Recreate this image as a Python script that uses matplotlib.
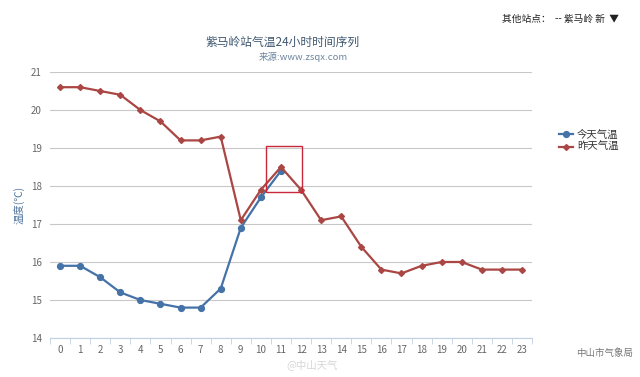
import matplotlib.pyplot as plt
from matplotlib.patches import Rectangle

plt.rcParams['font.family'] = ['Noto Sans CJK SC', 'DejaVu Sans']

hours = list(range(24))
hour_labels = [str(h) for h in hours]
today = [15.9, 15.9, 15.6, 15.2, 15.0, 14.9, 14.8, 14.8, 15.3, 16.9, 17.7, 18.4]
yesterday = [20.6, 20.6, 20.5, 20.4, 20.0, 19.7, 19.2, 19.2, 19.3, 17.1, 17.9, 18.5,
             17.9, 17.1, 17.2, 16.4, 15.8, 15.7, 15.9, 16.0, 16.0, 15.8, 15.8, 15.8]

fig = plt.figure(figsize=(6.4, 3.77), dpi=100)
ax = fig.add_axes([50 / 640, 1 - 338 / 377, 482 / 640, 266 / 377])

ax.plot(hours[:len(today)], today, color="#4572A7", linewidth=1.6, marker="o",
        markersize=4.2, label="今天气温", zorder=3)
ax.plot(hours, yesterday, color="#AA4643", linewidth=1.6, marker="D",
        markersize=3, label="昨天气温", zorder=3)

# red box highlighting the 11 o'clock peak
ax.add_patch(Rectangle((10.25, 17.85), 1.8, 1.2, fill=False, edgecolor="#c8283a",
                       linewidth=1, zorder=4))

ax.set_xlim(-0.5, 23.5)
ax.set_ylim(14, 21)
ax.set_yticks(range(14, 22))
ax.set_xticks(hours)
ax.set_xticklabels(hour_labels)
ax.set_xticks([h + 0.5 for h in range(-1, 24)], minor=True)
ax.tick_params(axis="x", which="major", length=0, labelsize=7, colors="#666666", pad=5)
ax.tick_params(axis="x", which="minor", length=4, color="#C0D0E0")
ax.tick_params(axis="y", length=0, labelsize=7, colors="#666666", pad=6)
ax.grid(axis="y", color="#C8C8C8", linewidth=0.8)
ax.set_axisbelow(True)
for s in ["top", "right", "left"]:
    ax.spines[s].set_visible(False)
ax.spines["bottom"].set_color("#C0D0E0")

ax.set_ylabel("温度(℃)", color="#4d759e", fontsize=7.5, labelpad=4)

fig.text(283 / 640, 1 - 42 / 377, "紫马岭站气温24小时时间序列", ha="center", va="center",
         fontsize=8.5, color="#3E576F")
fig.text(303 / 640, 1 - 57 / 377, "来源:www.zsqx.com", ha="center", va="center",
         fontsize=6.8, color="#6D869F")
fig.text(560 / 640, 1 - 19 / 377, "其他站点：  -- 紫马岭 新  ▼", ha="center", va="center",
         fontsize=7, color="#222222")
fig.text(605 / 640, 1 - 353 / 377, "中山市气象局", ha="center", va="center",
         fontsize=6.8, color="#777777")
fig.text(312 / 640, 1 - 365 / 377, "@中山天气", ha="center", va="center",
         fontsize=7.5, color="#cccccc", alpha=0.8)

fig.legend(loc="upper left", bbox_to_anchor=(550 / 640, 1 - 120 / 377), frameon=False,
           fontsize=7.5, handlelength=1.3, handletextpad=0.4, labelspacing=0.25,
           labelcolor="#333333")

fig.savefig("out.png", dpi=100, facecolor="white")
